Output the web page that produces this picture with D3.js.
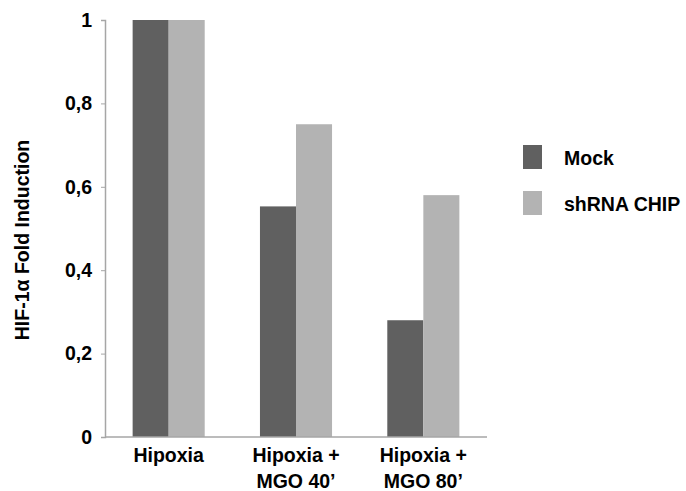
<!DOCTYPE html>
<html>
<head>
<meta charset="utf-8">
<script src="https://cdn.jsdelivr.net/npm/d3@7"></script>
<style>
  body { margin: 0; background: #fff; }
  svg text { font-family: "Liberation Sans", Arial, sans-serif; font-weight: bold; }
</style>
</head>
<body>
<svg width="686" height="491"></svg>
<script>
// chart data
var categories = [["Hipoxia"], ["Hipoxia +", "MGO 40\u2019"], ["Hipoxia +", "MGO 80\u2019"]];
var seriesNames = ["Mock", "shRNA CHIP"];
var mock = [1, 0.553, 0.28];
var shrna = [1, 0.75, 0.58];
var yTicks = [0, 0.2, 0.4, 0.6, 0.8, 1];
var colors = ["#606060", "#b3b3b3"];

var svg = d3.select('svg');
var mLeft = 105, mRight = 487, mTop = 20, mBottom = 437;
var fs = 19.5;

var x = d3.scaleBand().domain(d3.range(categories.length)).range([mLeft, mRight]).paddingInner(0.434).paddingOuter(0.217);
var xs = d3.scaleBand().domain([0, 1]).range([0, x.bandwidth()]);
var y = d3.scaleLinear().domain([0, 1]).range([mBottom, mTop]);

// y axis
var yAxis = d3.axisLeft(y).tickValues(yTicks).tickSize(4).tickPadding(9)
  .tickFormat(function (d) { return d === 0 || d === 1 ? d : d3.format('.1f')(d).replace('.', ','); });
var gy = svg.append('g').attr('transform', 'translate(' + mLeft + ',0)').call(yAxis);
gy.select('.domain').attr('stroke', '#a6a6a6').attr('stroke-width', 1.5);
gy.selectAll('.tick line').attr('stroke', '#a6a6a6');
gy.selectAll('.tick text').attr('font-size', fs).attr('fill', '#000').attr('font-family', null);

// bars
var rows = categories.map(function (c, i) { return [mock[i], shrna[i]]; });
var groups = svg.selectAll('g.grp').data(rows).enter().append('g')
  .attr('class', 'grp')
  .attr('transform', function (d, i) { return 'translate(' + x(i) + ',0)'; });
groups.selectAll('rect').data(function (d) { return d; }).enter().append('rect')
  .attr('x', function (d, j) { return xs(j); })
  .attr('y', function (d) { return y(d); })
  .attr('width', xs.bandwidth())
  .attr('height', function (d) { return mBottom - y(d); })
  .attr('fill', function (d, j) { return colors[j]; });

// x axis line
svg.append('line').attr('x1', mLeft).attr('x2', mRight).attr('y1', mBottom).attr('y2', mBottom)
  .attr('stroke', '#a6a6a6').attr('stroke-width', 1.5);

// category labels
categories.forEach(function (lines, i) {
  var t = svg.append('text').attr('text-anchor', 'middle').attr('font-size', fs).attr('fill', '#000');
  lines.forEach(function (s, k) {
    t.append('tspan').attr('x', x(i) + x.bandwidth() / 2).attr('y', 462 + k * 26).text(s);
  });
});

// y title
svg.append('text').attr('transform', 'translate(29,240) rotate(-90)')
  .attr('text-anchor', 'middle').attr('font-size', fs).attr('fill', '#000')
  .text('HIF-1\u03b1 Fold Induction');

// legend
var lg = svg.selectAll('g.leg').data(seriesNames).enter().append('g')
  .attr('class', 'leg')
  .attr('transform', function (d, i) { return 'translate(523,' + (145 + i * 46) + ')'; });
lg.append('rect').attr('width', 19).attr('height', 24).attr('fill', function (d, i) { return colors[i]; });
lg.append('text').attr('x', 41).attr('y', 20).attr('font-size', fs).attr('fill', '#000').text(function (d) { return d; });
</script>
</body>
</html>
